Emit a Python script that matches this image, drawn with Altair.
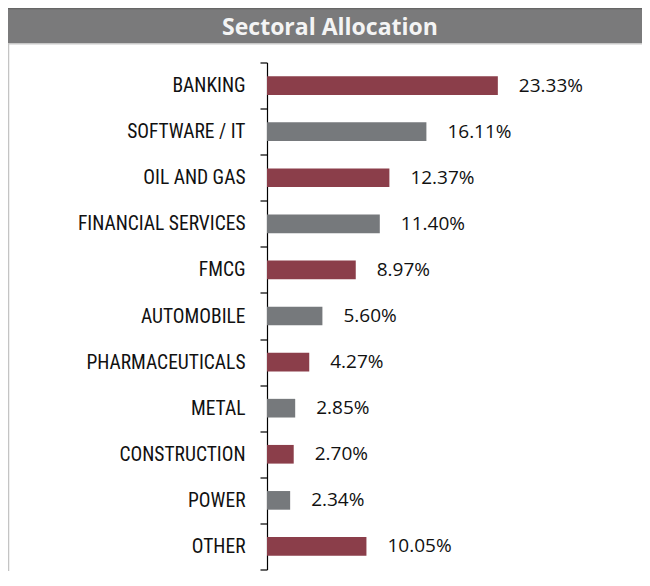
import altair as alt
import pandas as pd

sectors = ["BANKING", "SOFTWARE / IT", "OIL AND GAS", "FINANCIAL SERVICES", "FMCG",
           "AUTOMOBILE", "PHARMACEUTICALS", "METAL", "CONSTRUCTION", "POWER", "OTHER"]
weights = [23.33, 16.11, 12.37, 11.40, 8.97, 5.60, 4.27, 2.85, 2.70, 2.34, 10.05]
bar_colors = ["#8B3E4A", "#76797C"] * 5 + ["#8B3E4A"]
title_text = "Sectoral Allocation"

df = pd.DataFrame({"sector": sectors, "weight": weights, "color": bar_colors})

CAT_FONT = "Liberation Sans Narrow, Roboto Condensed, Roboto"
VAL_FONT = "Open Sans"

x = alt.X("weight:Q", scale=alt.Scale(domain=[0, 37.9], nice=False, zero=True), axis=None)
y = alt.Y(
    "sector:N", sort=sectors,
    scale=alt.Scale(paddingInner=0, paddingOuter=0),
    axis=alt.Axis(title=None, domainColor="#000000", domainWidth=1.2, tickColor="#000000",
                  tickWidth=1.2, tickSize=7, tickBand="extent", labelFont=CAT_FONT,
                  labelFontSize=19.5, labelColor="#111111", labelPadding=15,
                  labelLimit=300, grid=False),
)

bars = alt.Chart(df).mark_bar(height={"band": 0.405}).encode(
    x=x, y=y, color=alt.Color("color:N", scale=None))
labels = (
    alt.Chart(df)
    .transform_calculate(label="format(datum.weight, '.2f') + '%'")
    .mark_text(align="left", dx=21, font=VAL_FONT, fontSize=19, color="#111111")
    .encode(x=x, y=y, text="label:N")
)

deco = alt.Data(values=[{"t": title_text}])
title_bar = alt.Chart(deco).mark_rect(color="#7A7A7B").encode(
    x=alt.value(-259), x2=alt.value(375), y=alt.value(-54.5), y2=alt.value(-19.5))
title_top = alt.Chart(deco).mark_rule(color="#666666", strokeWidth=1.5).encode(
    x=alt.value(-259), x2=alt.value(375), y=alt.value(-54))
title_under = alt.Chart(deco).mark_rule(color="#C8C8C8", strokeWidth=1.5).encode(
    x=alt.value(-259), x2=alt.value(375), y=alt.value(-18.8))
left_border = alt.Chart(deco).mark_rule(color="#C4C4C4", strokeWidth=1.5).encode(
    x=alt.value(-258.5), y=alt.value(-19.5), y2=alt.value(530))
title_mark = alt.Chart(deco).mark_text(
    font="Open Sans", fontSize=23, fontWeight="bold", color="#F4F4F4",
    align="center", baseline="alphabetic").encode(
    x=alt.value(63), y=alt.value(-28), text="t:N")

chart = (
    alt.layer(title_bar, title_top, title_under, left_border, title_mark, bars, labels)
    .properties(width=375, height=507, autosize=alt.AutoSizeParams(type="none"),
                padding={"left": 259, "top": 54.5, "right": 0, "bottom": 1})
    .configure_view(stroke=None)
)

chart.save("out.html", embed_options={"renderer": "svg", "actions": False})
